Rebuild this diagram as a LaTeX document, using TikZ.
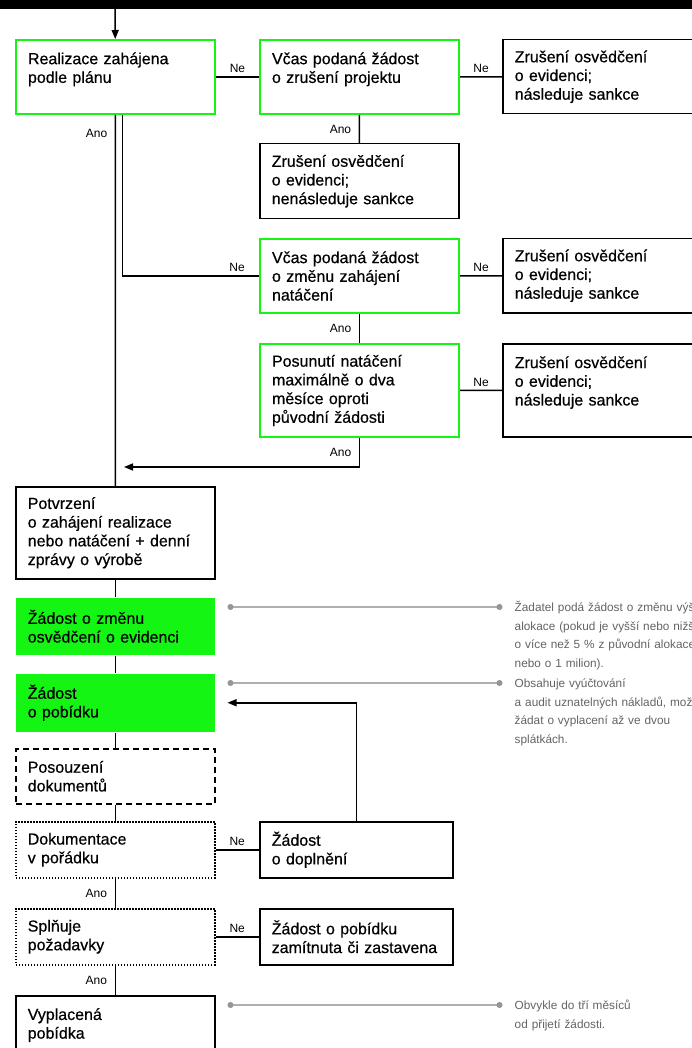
\documentclass[tikz,border=0pt]{standalone}
\usepackage{fontspec}
\setmainfont{Liberation Sans}
\newfontfamily\boxfont{Liberation Sans}[FakeBold=0.5]
\usetikzlibrary{arrows.meta}

\definecolor{lime}{RGB}{20,245,20}
\definecolor{notegray}{RGB}{100,100,100}
\definecolor{linegray}{RGB}{175,175,175}
\definecolor{dotgray}{RGB}{150,150,150}

\tikzset{
  box/.style={draw, line width=1.5pt, anchor=north west, minimum width=199pt, text width=175pt,
    inner xsep=12pt, inner ysep=0pt, align=left, font=\boxfont\fontsize{16}{18.7}\selectfont},
  greenbox/.style={box, draw=lime, line width=2pt},
  fillbox/.style={box, draw=none, fill=lime},
  dashbox/.style={box, dash pattern=on 6pt off 4pt},
  dotbox/.style={box, dash pattern=on 1.5pt off 1.5pt},
  narrow/.style={minimum width=193pt, text width=169pt},
  conn/.style={line width=1.5pt},
  arr/.style={conn, -{Triangle[length=9pt,width=7pt]}},
  lbl/.style={font=\fontsize{12}{14}\selectfont, inner sep=3.5pt},
  noteline/.style={draw=linegray, line width=1.2pt, {Circle[length=6pt,color=dotgray]}-{Circle[length=6pt,color=dotgray]}},
  note/.style={anchor=base west, align=left, text width=260pt, inner sep=0pt, text=notegray,
    font=\fontsize{11.8}{18.7}\selectfont},
}

\begin{document}
\begin{tikzpicture}[x=1pt,y=-1pt]
  \useasboundingbox (0,0) rectangle (692,1048);
  \clip (0,0) rectangle (692,1048);
  \fill[white] (0,0) rectangle (692,1048);
  \fill[black] (0,0) rectangle (692,9);
  \coordinate (start) at (115,9);

  \node[greenbox, minimum height=74pt] (plan) at (15,39) {Realizace zahájena\\podle plánu\\~};
  \node[greenbox, minimum height=74pt] (zruseni) at (259,39) {Včas podaná žádost\\o zrušení projektu\\~};
  \node[box, minimum height=74pt] (sankce1) at (502,39) {Zrušení osvědčení\\o evidenci;\\následuje sankce};
  \node[box, minimum height=75pt] (bezsankce) at (259,143) {Zrušení osvědčení\\o evidenci;\\nenásleduje sankce};
  \node[greenbox, minimum height=74pt] (zmena) at (259,238) {Včas podaná žádost\\o změnu zahájení\\natáčení};
  \node[box, minimum height=74pt] (sankce2) at (502,238) {Zrušení osvědčení\\o evidenci;\\následuje sankce};
  \node[greenbox, minimum height=93pt] (posun) at (259,343) {Posunutí natáčení\\maximálně o dva\\měsíce oproti\\původní žádosti};
  \node[box, minimum height=93pt] (sankce3) at (502,343) {Zrušení osvědčení\\o evidenci;\\následuje sankce\\~};
  \node[box, minimum height=92pt] (potvrzeni) at (15,486) {Potvrzení\\o zahájení realizace\\nebo natáčení + denní\\zprávy o výrobě};
  \node[fillbox, minimum height=57pt] (zmenaosv) at (15,597) {Žádost o změnu\\osvědčení o evidenci};
  \node[fillbox, minimum height=58pt] (pobidka) at (15,673) {Žádost\\o pobídku};
  \node[dashbox, minimum height=55pt] (posouzeni) at (15,748) {Posouzení\\dokumentů};
  \node[dotbox, minimum height=56pt] (dokumentace) at (15,821) {Dokumentace\\v pořádku};
  \node[box, narrow, minimum height=56pt] (doplneni) at (259,821) {Žádost\\o doplnění};
  \node[dotbox, minimum height=56pt] (pozadavky) at (15,908) {Splňuje\\požadavky};
  \node[box, narrow, minimum height=56pt] (zamitnuta) at (259,908) {Žádost o pobídku\\zamítnuta či zastavena};
  \node[box, minimum height=74pt] (vyplacena) at (15,995) {Vyplacená\\pobídka\\~};

  \draw[arr] (start) -- (plan);
  \draw[conn] (plan) -- node[lbl, above]{Ne} (zruseni);
  \draw[conn] (zruseni) -- node[lbl, above]{Ne} (sankce1);
  \draw[conn] (zruseni) -- node[lbl, left=4pt]{Ano} (bezsankce);
  \draw[conn] ([xshift=7pt]plan.south) |- node[lbl, above, pos=0.92]{Ne} (zmena.west);
  \draw[conn] (zmena) -- node[lbl, above]{Ne} (sankce2);
  \draw[conn] (zmena) -- node[lbl, left=4pt]{Ano} (posun);
  \draw[conn] (posun) -- node[lbl, above]{Ne} (sankce3);
  \coordinate (join) at (124,467);
  \draw[arr] (posun.south) |- node[lbl, left=4pt, pos=0.25]{Ano} (join);
  \draw[conn] (plan) -- node[lbl, left=4pt, pos=0.05]{Ano} (potvrzeni);
  \foreach \a/\b in {potvrzeni/zmenaosv, zmenaosv/pobidka, pobidka/posouzeni, posouzeni/dokumentace}
    \draw[conn] (\a) -- (\b);
  \draw[conn] (dokumentace) -- node[lbl, above]{Ne} (doplneni);
  \draw[conn] (dokumentace) -- node[lbl, left=4pt]{Ano} (pozadavky);
  \draw[conn] (pozadavky) -- node[lbl, above]{Ne} (zamitnuta);
  \draw[conn] (pozadavky) -- node[lbl, left=4pt]{Ano} (vyplacena);
  \draw[arr] (doplneni.north) |- ([xshift=12pt]pobidka.east);

  \draw[noteline] ([xshift=12pt,yshift=-10pt]zmenaosv.north east) -- ++(275,0) coordinate (n1);
  \node[note] (pozn1) at ([xshift=12pt,yshift=-4.5pt]n1) {Žadatel podá žádost o změnu výše\\alokace (pokud je vyšší nebo nižší\\o více než 5 \% z původní alokace\\nebo o 1 milion).};
  \draw[noteline] ([xshift=12pt,yshift=-10pt]pobidka.north east) -- ++(275,0) coordinate (n2);
  \node[note] (pozn2) at ([xshift=12pt,yshift=-4.5pt]n2) {Obsahuje vyúčtování\\a audit uznatelných nákladů, možno\\žádat o vyplacení až ve dvou\\splátkách.};
  \draw[noteline] ([xshift=12pt,yshift=-10pt]vyplacena.north east) -- ++(275,0) coordinate (n3);
  \node[note] (pozn3) at ([xshift=12pt,yshift=-4.5pt]n3) {Obvykle do tří měsíců\\od přijetí žádosti.};
\end{tikzpicture}
\end{document}
